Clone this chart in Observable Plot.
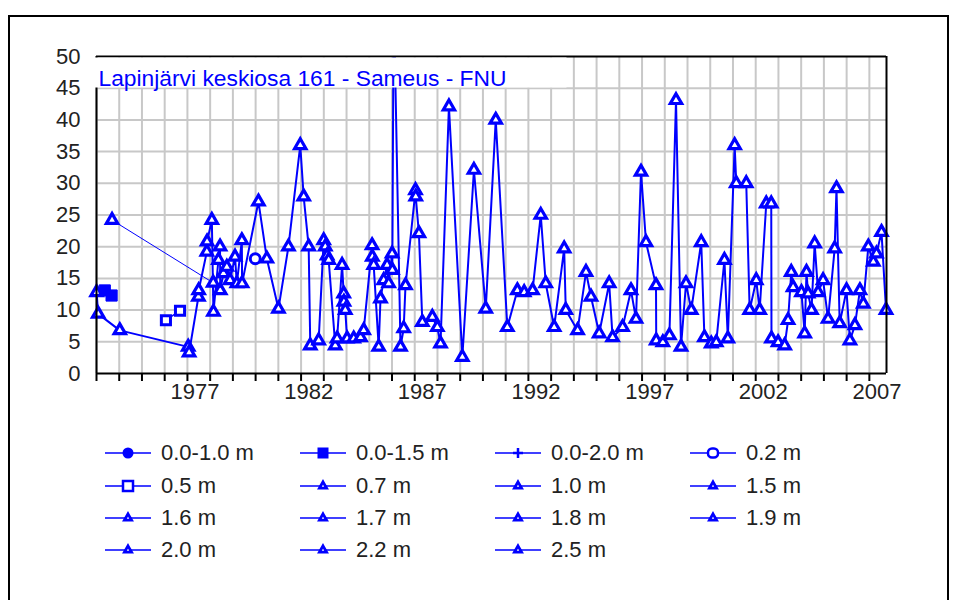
<!DOCTYPE html>
<html><head><meta charset="utf-8">
<script src="https://cdn.jsdelivr.net/npm/d3@7"></script>
<script src="https://cdn.jsdelivr.net/npm/@observablehq/plot@0.6"></script>
<style>
body{margin:0;background:#fff;font-family:"Liberation Sans",Arial,sans-serif;}
#wrap{position:relative;width:958px;height:600px;overflow:hidden;background:#fff;}
#border{position:absolute;left:8px;top:15px;width:941px;height:700px;border:2px solid #000;box-sizing:border-box;}
#chart{position:absolute;left:0;top:0;}
#legend{position:absolute;left:0;top:0;}
.item{position:absolute;height:30px;display:flex;align-items:center;font-size:22px;color:#222;white-space:nowrap;}
.item svg{display:block;margin-right:10px;}
</style></head><body>
<div id="wrap"><div id="border"></div><div id="chart"></div><div id="legend"></div></div>
<script>
// ---------------- data ----------------
const titleText = "Lapinjärvi keskiosa 161 - Sameus - FNU";
const seriesNames = ["0.0-1.0 m","0.0-1.5 m","0.0-2.0 m","0.2 m","0.5 m","0.7 m","1.0 m","1.5 m","1.6 m","1.7 m","1.8 m","1.9 m","2.0 m","2.2 m","2.5 m"];
const seriesSymbols = ["circleFill","squareFill","plus","circleOpen","squareOpen","tri","tri","tri","tri","tri","tri","tri","tri","tri","tri"];

// main series (decimal years, FNU)
const mainYears = [1972.67,1972.74,1973.69,1976.70,1976.74,1977.15,1977.16,1977.52,1977.53,1977.74,
1977.81,1978.03,1978.10,1978.11,1978.25,1978.40,1978.54,1978.76,1978.84,1979.06,
1979.07,1979.79,1980.16,1980.67,1981.11,1981.63,1981.78,1982.00,1982.07,1982.44,
1982.66,1982.73,1982.81,1982.88,1983.17,1983.25,1983.47,1983.54,1983.55,1983.61,
1983.69,1983.98,1984.28,1984.42,1984.79,1984.80,1984.86,1985.08,1985.16,1985.30,
1985.45,1985.52,1985.67,1985.68,1985.74,1986.04,1986.18,1986.26,1986.70,1986.71,
1986.85,1987.00,1987.44,1987.66,1987.80,1988.17,1988.76,1989.27,1989.79,1990.23,
1990.74,1991.18,1991.48,1991.85,1992.21,1992.43,1992.80,1993.24,1993.31,1993.83,
1994.20,1994.42,1994.78,1995.22,1995.37,1995.81,1996.18,1996.40,1996.62,1996.84,
1997.28,1997.29,1997.58,1997.87,1998.16,1998.38,1998.60,1998.83,1999.27,1999.41,
1999.71,1999.93,2000.29,2000.44,2000.74,2000.81,2001.25,2001.40,2001.69,2001.84,
2002.13,2002.35,2002.36,2002.65,2002.94,2003.09,2003.23,2003.31,2003.68,2003.82,
2003.90,2003.97,2004.12,2004.26,2004.41,2004.63,2004.85,2005.14,2005.22,2005.36,
2005.66,2005.81,2006.03,2006.25,2006.40,2006.62,2006.84,2006.98,2007.20,2007.40];
const mainValues = [12.8,9.4,6.8,4.2,3.3,12.1,13.1,19.2,20.8,24.2,
9.7,17.9,20,13.1,15.8,16.8,14.7,18.4,14.2,21,
14.2,27.1,18.1,10.2,20,36,27.9,20,4.4,5.2,
21,20,18.6,17.9,4.4,5.5,17.1,12.6,11.3,10,
5.5,5.5,5.7,6.8,20.2,18.4,17.1,4.2,11.8,14.7,
17.1,14.2,18.9,16.3,60,4.2,7.1,13.9,28.9,27.9,
22.1,8.1,8.9,7.3,4.7,42.1,2.6,32.1,10.2,40,
7.3,13.1,12.8,13.1,25,14.2,7.3,19.7,10,6.8,
16,12.1,6.3,14.2,5.7,7.3,13.1,8.6,31.8,20.7,
13.9,5.2,4.9,6,43.1,4.2,14.2,10,20.7,5.7,
4.7,4.9,17.9,5.5,36,30,30,10,14.7,10,
26.8,26.8,5.5,4.9,4.4,8.4,16,13.6,12.8,6.3,
16,12.6,10,20.5,12.8,14.7,8.6,19.7,29.2,7.9,
13.1,5.2,7.6,13.1,11,20,17.6,18.9,22.3,10];

const sq15Years = [1973.03, 1973.33];   // 0.0-1.5 m
const sq15Values = [13.1, 12.3];
const m02Years = [1979.65];             // 0.2 m
const m02Values = [18.1];
const m05Years = [1975.72, 1976.34];    // 0.5 m
const m05Values = [8.4, 9.9];
const m20Years = [1973.35, 1977.80];    // 2.0 m
const m20Values = [24.2, 14.3];

const xStart = 1972.666, xEnd = 2007.42;
const yearTicks = d3.range(35).map(k => xStart + k);
const labelYears = [1977,1982,1987,1992,1997,2002,2007];
const yTicks = d3.range(0, 51, 5);

// ---------------- build ----------------
const rows = (ys, vs) => ys.map((t, i) => ({t, v: vs[i]}));
const main = rows(mainYears, mainValues);
const sq15 = rows(sq15Years, sq15Values);
const m02 = rows(m02Years, m02Values);
const m05 = rows(m05Years, m05Values);
const m20 = rows(m20Years, m20Values);
const BLUE = "#0000ff";
const GRID = "#c8c8c8";

const plot = Plot.plot({
  width: 958, height: 410,
  marginLeft: 96, marginRight: 72, marginTop: 56, marginBottom: 37,
  x: {domain: [xStart, xEnd], label: null},
  y: {domain: [0, 50], label: null},
  style: {fontFamily: "'Liberation Sans', Arial, sans-serif", fontSize: "22px", color: "#222", background: "transparent"},
  marks: [
    Plot.gridX(yearTicks, {stroke: GRID, strokeOpacity: 1, strokeWidth: 2}),
    Plot.gridY(yTicks.filter(d => d > 0 && d < 50), {stroke: GRID, strokeOpacity: 1, strokeWidth: 2}),
    Plot.axisX(yearTicks, {tickSize: 8, tickFormat: () => "", strokeWidth: 2, stroke: "#000"}),
    Plot.axisX(labelYears, {tickSize: 0, tickPadding: 10, tickFormat: d => String(d), fontSize: 22}),
    Plot.axisY(yTicks, {tickSize: 0, tickPadding: 16, fontSize: 22}),
    Plot.line(main, {x: "t", y: "v", stroke: BLUE, strokeWidth: 2, clip: "frame"}),
    Plot.line(m20, {x: "t", y: "v", stroke: BLUE, strokeWidth: 1, clip: "frame"}),
    Plot.line(m05, {x: "t", y: "v", stroke: BLUE, strokeWidth: 1.5, clip: "frame"}),
    Plot.line(sq15, {x: "t", y: "v", stroke: BLUE, strokeWidth: 1.5, clip: "frame"}),
    Plot.dot(main.filter(d => d.v <= 50), {x: "t", y: "v", symbol: "triangle", r: 4.2, stroke: BLUE, strokeWidth: 3.2, fill: "white"}),
    Plot.dot(m20, {x: "t", y: "v", symbol: "triangle", r: 4.2, stroke: BLUE, strokeWidth: 3.2, fill: "white"}),
    Plot.dot(sq15, {x: "t", y: "v", symbol: "square", r: 6.3, fill: BLUE, stroke: BLUE, strokeWidth: 1}),
    Plot.dot(m05, {x: "t", y: "v", symbol: "square2", r: 5.8, stroke: BLUE, strokeWidth: 3, fill: "white"}),
    Plot.dot(m02, {x: "t", y: "v", symbol: "circle", r: 5, stroke: BLUE, strokeWidth: 3, fill: "white"}),
    Plot.ruleX([xStart, xEnd], {stroke: "#000", strokeWidth: 2}),
    Plot.ruleY([0, 50], {stroke: "#000", strokeWidth: 2}),
    Plot.text([titleText], {frameAnchor: "top-left", dx: 2, dy: 13, lineAnchor: "top", textAnchor: "start", fill: BLUE, fontSize: 22.8})
  ]
});
document.getElementById("chart").appendChild(plot);

// white box behind the title (as in the original)
const tnode = plot.querySelector('g[aria-label="text"] text');
if (tnode) {
  const g = tnode.parentNode;
  const bb = tnode.getBoundingClientRect();
  const sb = plot.getBoundingClientRect();
  const r = document.createElementNS("http://www.w3.org/2000/svg", "rect");
  r.setAttribute("x", 95);
  r.setAttribute("y", 57.5);
  r.setAttribute("width", (bb.right - sb.left) + 60 - 95);
  r.setAttribute("height", 30);
  r.setAttribute("fill", "white");
  g.parentNode.insertBefore(r, g);
}

// ---------------- legend ----------------
const legend = document.getElementById("legend");
const colX = [105, 300, 495, 690];
const rowY = [453, 486, 518, 550];
function icon(kind) {
  const w = 46, h = 30, cx = 23, cy = 15;
  let sym = "";
  if (kind === "tri") {
    const p = d3.symbol(d3.symbolTriangle2, 36)();
    sym = `<path d="${p}" transform="translate(${cx},${cy})" fill="white" stroke="${BLUE}" stroke-width="2.8"/>`;
  } else if (kind === "circleFill") {
    sym = `<circle cx="${cx}" cy="${cy}" r="5.5" fill="${BLUE}"/>`;
  } else if (kind === "squareFill") {
    sym = `<rect x="${cx-5.5}" y="${cy-5.5}" width="11" height="11" fill="${BLUE}"/>`;
  } else if (kind === "plus") {
    sym = `<path d="M${cx-5},${cy}H${cx+5}M${cx},${cy-5}V${cy+5}" stroke="${BLUE}" stroke-width="2.5"/>`;
  } else if (kind === "circleOpen") {
    sym = `<rect x="${cx-5}" y="${cy-4.5}" width="10" height="9" rx="4" fill="white" stroke="${BLUE}" stroke-width="2.5"/>`;
  } else if (kind === "squareOpen") {
    sym = `<rect x="${cx-5}" y="${cy-5}" width="10" height="10" fill="white" stroke="${BLUE}" stroke-width="2.5"/>`;
  }
  return `<svg width="${w}" height="${h}"><line x1="0" y1="${cy}" x2="${w}" y2="${cy}" stroke="${BLUE}" stroke-width="1.5"/>${sym}</svg>`;
}
seriesNames.forEach((name, i) => {
  const d = document.createElement("div");
  d.className = "item";
  d.style.left = colX[i % 4] + "px";
  d.style.top = (rowY[Math.floor(i / 4)] - 15) + "px";
  d.innerHTML = icon(seriesSymbols[i]) + `<span>${name}</span>`;
  legend.appendChild(d);
});
</script>
</body></html>
